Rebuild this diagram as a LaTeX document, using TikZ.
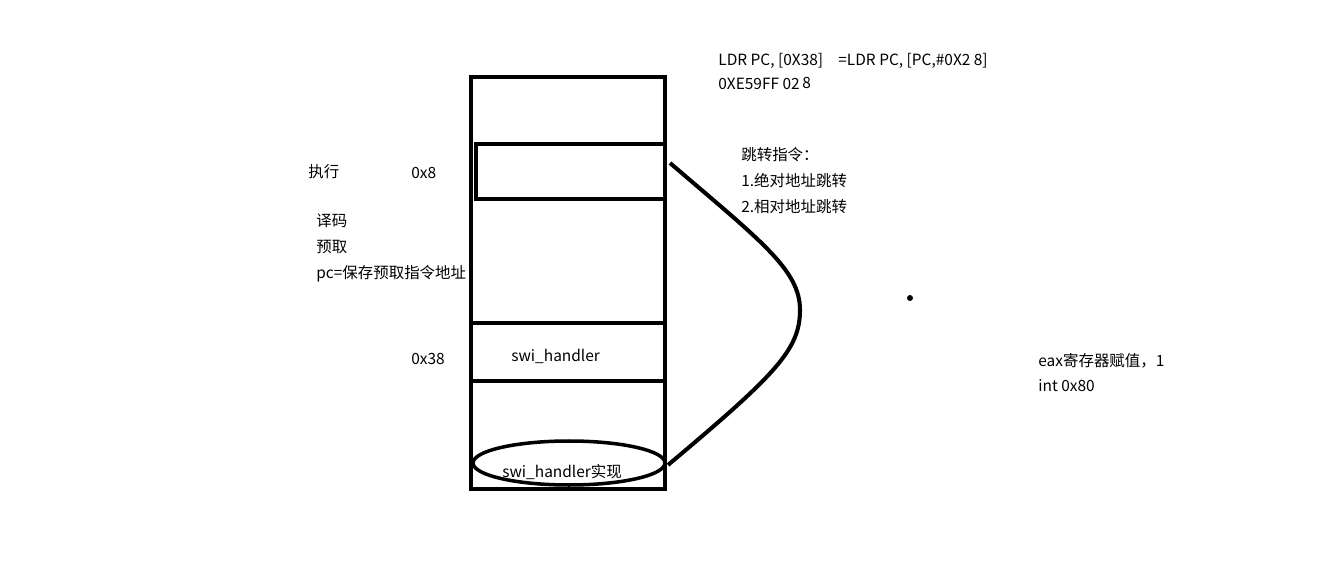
\documentclass[tikz,border=0pt]{standalone}
\usepackage{fontspec}
\setmainfont{Noto Sans CJK SC}
\usetikzlibrary{positioning,shapes.geometric}
\tikzset{memline/.style={line width=2.3pt}}
\tikzset{cell/.style={draw, memline, inner sep=0pt}}
\tikzset{txt/.style={anchor=base west, inner sep=0pt, font=\fontsize{8.8}{10}\selectfont}}
\tikzset{dotpt/.style={circle, fill, inner sep=0pt, minimum size=0.12cm}}

\begin{document}
\begin{tikzpicture}[x=0.02cm, y=-0.02cm]
	\useasboundingbox[fill=white] (0,0) rectangle (1341,577);

	% memory column
	\draw[memline] (471,77) rectangle (665,489);
	\node[cell, minimum width=3.78cm, minimum height=1.1cm] (slot8) at (570.5,171.5) {};
	\node[cell, minimum width=3.88cm, minimum height=1.16cm] (slot38) at (568,352) {};
	\node[cell, ellipse, line width=2pt, minimum width=3.84cm, minimum height=0.88cm] (impl) at (569,463) {};

	\coordinate (jmpfrom) at (670,163);
	\coordinate (jmpto) at (668,465);
	\draw[memline] (jmpfrom) .. controls (761,241) and (800,270) .. (800,310)
		.. controls (800,350) and (775,375) .. (jmpto);

	\node[txt] (ldr) at (718,66) {LDR PC, [0X38]};
	\node[txt] (ldrpc) at (838,66) {=LDR PC, [PC,\#0X2 8]};
	\node[txt] (code) at (718,90) {0XE59FF 02\,\raisebox{1pt}{8}};

	\node[txt] (exec) at (308,178) {执行};
	\node[txt] (addr8) at (411,179) {0x8};
	\node[txt] (decode) at (316,227) {译码};
	\node[txt] (fetch) at (316,253) {预取};
	\node[txt] (pcnote) at (316,279) {pc=保存预取指令地址};

	\node[txt] (jmp) at (741,161) {跳转指令：};
	\node[txt] (jmpabs) at (741,187) {1.绝对地址跳转};
	\node[txt] (jmprel) at (741,213) {2.相对地址跳转};

	\node[txt] (addr38) at (411,364) {0x38};
	\node[txt] (swi) at (511,361) {swi\_handler};
	\node[txt] (swiimpl) at (502,477) {swi\_handler实现};

	\node[txt] (eax) at (1038,366) {eax寄存器赋值，1};
	\node[txt] (int) at (1038,391) {int 0x80};

	\node[dotpt] (dot) at (910,298) {};
\end{tikzpicture}
\end{document}
